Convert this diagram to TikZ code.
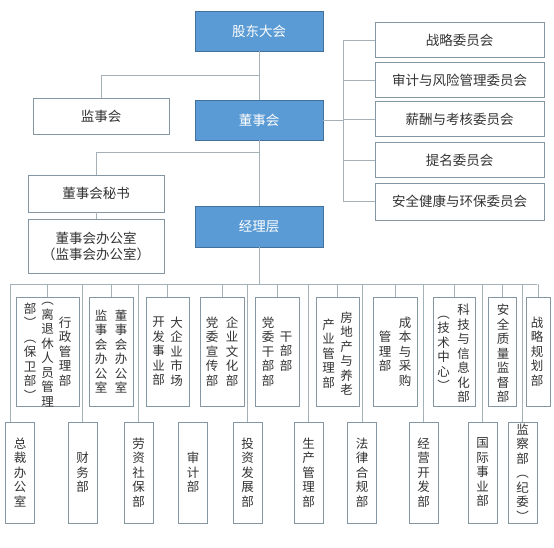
\documentclass[tikz,border=0pt]{standalone}
\usepackage{fontspec}
\setmainfont{Noto Sans CJK SC}
\usepackage{xcolor}
\usetikzlibrary{calc,positioning}
\definecolor{orgblue}{HTML}{5B9BD5}
\definecolor{orgblueedge}{HTML}{41719C}
\definecolor{orgedge}{HTML}{8497A3}
\definecolor{orgline}{HTML}{A5B1B8}
\definecolor{orgtext}{HTML}{333333}
\newcommand\orghfont{\fontsize{13.5}{16}\selectfont}
\newcommand\orgvfont{\fontsize{12.5}{14.5}\selectfont}
\tikzset{
 org head/.style={draw=orgblueedge,fill=orgblue,text=white,line width=.9pt,
                  minimum width=128pt,minimum height=40pt,
                  inner sep=0pt,outer sep=0pt,font=\orghfont},
 org box/.style={draw=orgedge,fill=white,text=orgtext,line width=.9pt,
                 inner sep=0pt,outer sep=0pt,font=\orghfont,align=center},
 org committee/.style={org box,minimum width=169pt,minimum height=35pt},
 org dept/.style={org box,minimum height=109pt},
 org unit/.style={org box,minimum width=29pt,minimum height=101pt,font=\orgvfont},
 org col/.style={text=orgtext,inner sep=0pt,align=center,font=\orgvfont},
 org link/.style={draw=orgline,line width=.9pt}
}
\begin{document}
\begin{tikzpicture}[x=1pt,y=-1pt]
 \useasboundingbox (0,0) rectangle (554,548);

 % upper levels
 \node[org head] (gd) at (259,31) {股东大会};
 \node[org head] (dsh) at (259,120) {董事会};
 \node[org head,minimum height=41pt] (jlc) at (259,226.5) {经理层};
 \node[org box,minimum width=136pt,minimum height=36pt] (jsh) at (101,116) {监事会};
 \node[org box,minimum width=136pt,minimum height=37pt] (ms) at (96,193.5) {董事会秘书};
 \node[org box,minimum width=136pt,minimum height=54pt] (bgs) at (96,246)
   {董事会办公室\\（监事会办公室）};

 \node[org committee] (c1) at (459.5,40) {战略委员会};
 \node[org committee] (c2) at (459.5,80) {审计与风险管理委员会};
 \node[org committee] (c3) at (459.5,119) {薪酬与考核委员会};
 \node[org committee] (c4) at (459.5,160) {提名委员会};
 \node[org committee,minimum height=37pt] (c5) at (459.5,201.5) {安全健康与环保委员会};

 \coordinate (jbus) at (0,75);
 \coordinate (mbus) at (0,152);
 \coordinate (cbus) at (343,0);
 \coordinate (bus) at (0,284);
 \coordinate (busL) at (10,284);
 \coordinate (busR) at (537,284);

 \draw[org link] (gd) -- (dsh);
 \draw[org link] (dsh) -- (jlc);
 \draw[org link] (gd.south |- jbus) -| (jsh.north);
 \draw[org link] (dsh.south |- mbus) -| (ms.north);
 \draw[org link] (ms) -- (bgs);
 \draw[org link] (dsh.east) -- (dsh.east -| cbus);
 \draw[org link] (c1.west -| cbus) -- (c5.west -| cbus);
 \foreach \i in {1,...,5} \draw[org link] (c\i.west -| cbus) -- (c\i.west);

 % upper row of departments
 \node[org dept,minimum width=63pt] (d1) at (47.5,351.5) {};
 \node[org dept,minimum width=44pt] (d2) at (111,351.5) {};
 \node[org dept,minimum width=43pt] (d3) at (167.5,351.5) {};
 \node[org dept,minimum width=44pt] (d4) at (222,351.5) {};
 \node[org dept,minimum width=44pt] (d5) at (277,351.5) {};
 \node[org dept,minimum width=43pt] (d6) at (337.5,351.5) {};
 \node[org dept,minimum width=44pt] (d7) at (395,351.5) {};
 \node[org dept,minimum width=42pt] (d8) at (454,351.5) {};
 \node[org dept,minimum width=28pt] (d9) at (502,351.5) {};
 \node[org dept,minimum width=24pt] (d10) at (538,351.5) {};

 \node[org col] (d1a) at ([xshift=17.5pt]d1.center) {行\\政\\管\\理\\部};
 \node[org col] (d1b) at ([yshift=-3pt]d1.center) {︵\\离\\退\\休\\人\\员\\管\\理};
 \node[org col] (d1c) at ([xshift=-17.5pt]d1.center) {部\\︶\\︵\\保\\卫\\部\\︶};
 \node[org col] (d2a) at ([xshift=10pt]d2.center) {董\\事\\会\\办\\公\\室};
 \node[org col] (d2b) at ([xshift=-10pt]d2.center) {监\\事\\会\\办\\公\\室};
 \node[org col] (d3a) at ([xshift=9pt]d3.center) {大\\企\\业\\市\\场};
 \node[org col] (d3b) at ([xshift=-9pt]d3.center) {开\\发\\事\\业\\部};
 \node[org col] (d4a) at ([xshift=10pt]d4.center) {企\\业\\文\\化\\部};
 \node[org col] (d4b) at ([xshift=-10pt]d4.center) {党\\委\\宣\\传\\部};
 \node[org col] (d5a) at ([xshift=9pt]d5.center) {干\\部\\部};
 \node[org col] (d5b) at ([xshift=-9pt]d5.center) {党\\委\\干\\部\\部};
 \node[org col] (d6a) at ([xshift=9pt,yshift=-2pt]d6.center) {房\\地\\产\\与\\养\\老};
 \node[org col] (d6b) at ([xshift=-9pt,yshift=-2pt]d6.center) {产\\业\\管\\理\\部};
 \node[org col] (d7a) at ([xshift=10pt]d7.center) {成\\本\\与\\采\\购};
 \node[org col] (d7b) at ([xshift=-10pt]d7.center) {管\\理\\部};
 \node[org col] (d8a) at ([xshift=9.5pt,yshift=-2pt]d8.center) {科\\技\\与\\信\\息\\化\\部};
 \node[org col] (d8b) at ([xshift=-10.5pt,yshift=-2pt]d8.center) {︵\\技\\术\\中\\心\\︶};
 \node[org col] (d9a) at ([xshift=1pt,yshift=-2pt]d9.center) {安\\全\\质\\量\\监\\督\\部};
 \node[org col] (d10a) at ([xshift=-1pt]d10.center) {战\\略\\规\\划\\部};

 % lower row of departments
 \node[org unit] (b1) at (20,472.5) {总\\裁\\办\\公\\室};
 \node[org unit] (b2) at (82.5,472.5) {财\\务\\部};
 \node[org unit] (b3) at (138.5,472.5) {劳\\资\\社\\保\\部};
 \node[org unit] (b4) at (193,472.5) {审\\计\\部};
 \node[org unit] (b5) at (247.5,472.5) {投\\资\\发\\展\\部};
 \node[org unit] (b6) at (308.5,472.5) {生\\产\\管\\理\\部};
 \node[org unit] (b7) at (362,472.5) {法\\律\\合\\规\\部};
 \node[org unit] (b8) at (423.5,472.5) {经\\营\\开\\发\\部};
 \node[org unit] (b9) at (482.5,472.5) {国\\际\\事\\业\\部};
 \node[org unit] (b10) at (522.5,472.5) {监\\察\\部\\︵\\纪\\委\\︶};

 \draw[org link] (jlc.south) -- (jlc.south |- bus);
 \draw[org link] (busL) -- (busR);
 \foreach \i in {1,...,10} \draw[org link] (d\i.north |- bus) -- (d\i.north);
 \draw[org link] (busL) -- (busL |- b1.north);
 \foreach \i in {2,3,5,6,7,8,9,10} \draw[org link] (b\i.north |- bus) -- (b\i.north);
\end{tikzpicture}
\end{document}
